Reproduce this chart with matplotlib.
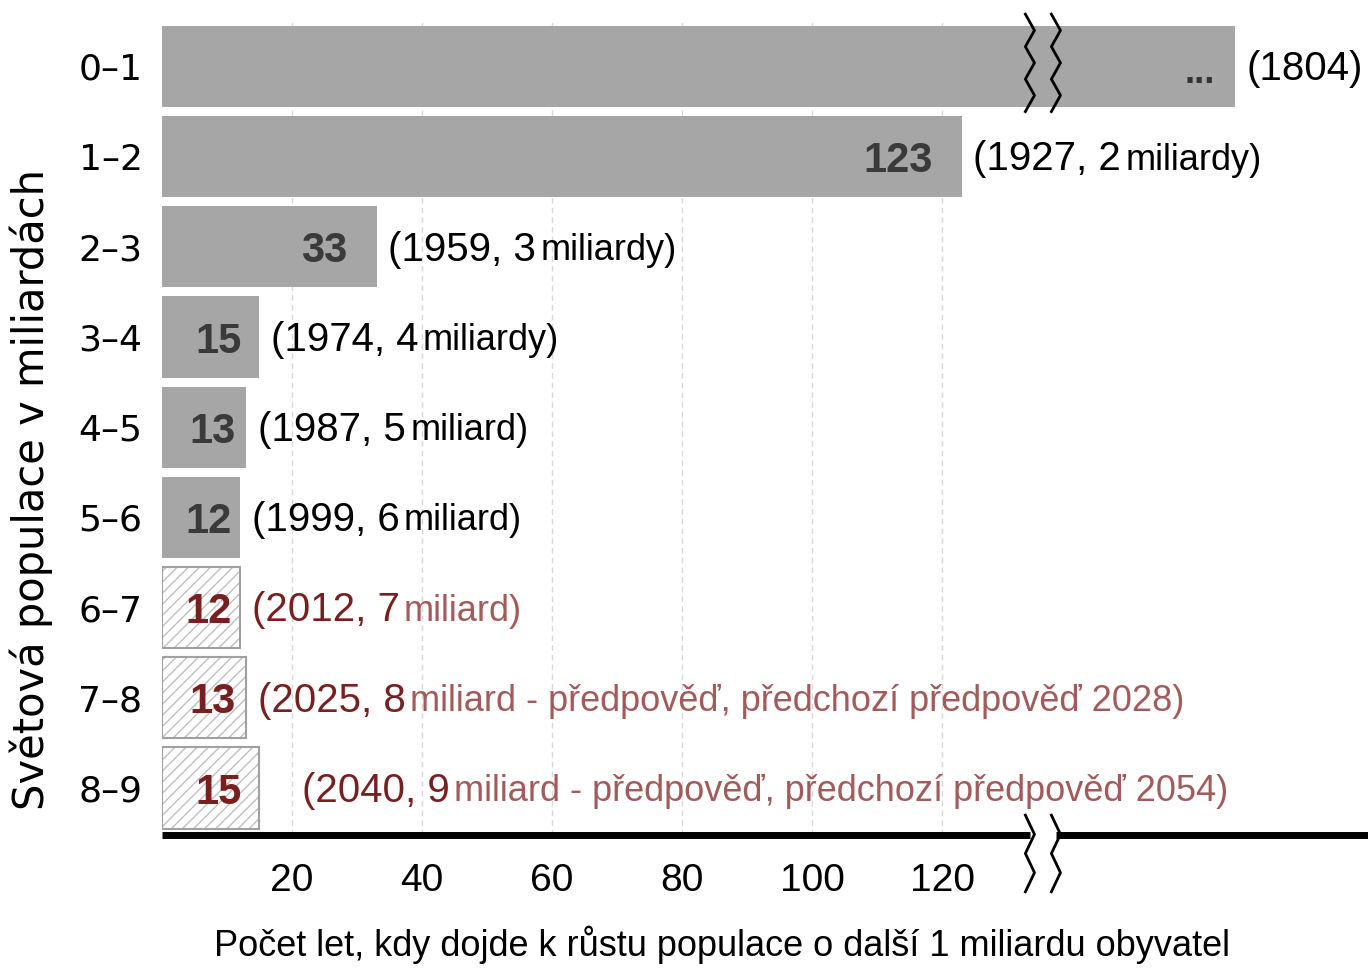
import numpy as np
import matplotlib.pyplot as plt

# kategorie a data
kategorie = ['0–1', '1–2', '2–3', '3–4', '4–5', '5–6', '6–7', '7–8', '8–9']
roky_rustu = [165, 123, 33, 15, 13, 12, 12, 13, 15]   # první sloupec je "zlomený"
popisky_hodnot = ['...', '123', '33', '15', '13', '12', '12', '13', '15']
popisky_zacatek = ['(1804)', '(1927, 2', '(1959, 3', '(1974, 4', '(1987, 5',
                   '(1999, 6', '(2012, 7', '(2025, 8', '(2040, 9']
popisky_konec = ['', 'miliardy)', 'miliardy)', 'miliardy)', 'miliard)',
                 'miliard)', 'miliard)',
                 'miliard - předpověď, předchozí předpověď 2028)',
                 'miliard - předpověď, předchozí předpověď 2054)']
predpoved = [False, False, False, False, False, False, True, True, True]
xticky = [20, 40, 60, 80, 100, 120]
zlom = (133.5, 137.5)

narrow = ['Liberation Sans Narrow', 'Liberation Sans', 'DejaVu Sans']

fig = plt.figure(figsize=(13.68, 9.75), dpi=100)
ax = fig.add_axes([0.1184, 0.1436, 0.8816, 0.8354])

y = np.arange(len(kategorie))
for i, v in enumerate(roky_rustu):
    if predpoved[i]:
        b = ax.barh(y[i], v, height=0.9, color='white', edgecolor='#a0a0a0',
                    hatch='///', linewidth=1.5, zorder=2)
        b[0]._hatch_color = (0.75, 0.75, 0.75, 1)
    else:
        ax.barh(y[i], v, height=0.9, color='#a6a6a6', edgecolor='none', zorder=2)

# mrizka
for xt in xticky:
    ax.axvline(xt, color='#d8d8d8', linestyle=(0, (4, 3)), linewidth=1, zorder=1)

# popisky
for i, v in enumerate(roky_rustu):
    barva_cisla = '#7a1f1f' if predpoved[i] else '#3a3a3a'
    if i == 0:
        ax.text(v - 3, y[i] + 0.08, popisky_hodnot[i], ha='right', va='center',
                fontsize=26, family=narrow, fontweight='bold', color='#333333', zorder=3)
    elif v > 20:
        ax.text(v - 4.5, y[i] + 0.05, popisky_hodnot[i], ha='right', va='center',
                fontsize=30, family=narrow, fontweight='bold', color=barva_cisla, zorder=3)
    else:
        ax.text(v / 2 + 1.2, y[i] + 0.05, popisky_hodnot[i], ha='center', va='center',
                fontsize=30, family=narrow, fontweight='bold', color=barva_cisla, zorder=3)

    pad = 6.5 if i == 8 else 1.8
    c1 = '#7a1f1f' if predpoved[i] else 'black'
    c2 = '#a35a5a' if predpoved[i] else 'black'
    t1 = ax.text(v + pad, y[i] + 0.03, popisky_zacatek[i], ha='left', va='center',
                 fontsize=29, family=narrow, color=c1, zorder=3)
    if popisky_konec[i]:
        ax.annotate(popisky_konec[i], xy=(1, 0), xycoords=t1, xytext=(3, 0.5),
                    textcoords='offset points', ha='left', va='bottom',
                    fontsize=26, family=narrow, color=c2, zorder=3)

ax.set_ylim(8.52, -0.51)
ax.set_xlim(0, 185.5)
ax.set_yticks(y)
ax.set_yticklabels(kategorie, fontsize=26)
ax.set_xticks(xticky)
ax.set_xticklabels([str(t) for t in xticky], fontsize=28, family=narrow)
ax.tick_params(axis='x', length=0, pad=20)
ax.tick_params(axis='y', length=0, pad=14)
for s in ax.spines.values():
    s.set_visible(False)

ax.set_ylabel('Světová populace v miliardách', fontsize=30, va='center')
ax.yaxis.set_label_coords(-0.108, 0.424)
ax.set_xlabel('Počet let, kdy dojde k růstu populace o další 1 miliardu obyvatel',
              fontsize=26, family=narrow, va='center')
ax.xaxis.set_label_coords(0.464, -0.135)

# osa x se zlomem
ybot = 8.52
ax.plot([0, zlom[0]], [ybot, ybot], color='black', lw=5, clip_on=False, zorder=4,
        solid_capstyle='butt')
ax.plot([zlom[1], 185.5], [ybot, ybot], color='black', lw=5, clip_on=False, zorder=4,
        solid_capstyle='butt')


def cikcak(x0, ya, yb, n=3, w=1.4):
    ys = np.linspace(ya, yb, 2 * n + 1)
    xs = np.array([x0 + (w if k % 2 else -w) * 0.5 for k in range(2 * n + 1)])
    return xs, ys


for xz in zlom:
    xs, ys = cikcak(xz, -0.58, 0.5)
    ax.plot(xs, ys, color='black', lw=2, clip_on=False, zorder=5)
    xs, ys = cikcak(xz, 8.3, 9.15, n=2)
    ax.plot(xs, ys, color='black', lw=2, clip_on=False, zorder=5)

fig.savefig('out.png', dpi=100)
